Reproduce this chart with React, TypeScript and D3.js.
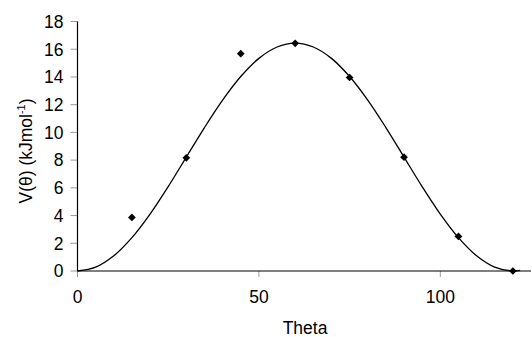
import React from "react";
import * as d3 from "d3";

const thetaPoints = [15, 30, 45, 60, 75, 90, 105, 120];
const energyPoints = [3.86, 8.17, 15.68, 16.43, 13.96, 8.21, 2.49, 0];

const curveTheta = [0, 5, 10, 15, 20, 25, 30, 35, 40, 45, 50, 55, 60, 65, 70, 75, 80, 85, 90, 95, 100, 105, 110, 115, 120, 122];
const curveEnergy = [0, 0.28, 1.1, 2.41, 4.11, 6.09, 8.22, 10.35, 12.33, 14.03, 15.34, 16.16, 16.44, 16.16, 15.34, 14.03, 12.33, 10.35, 8.22, 6.09, 4.11, 2.41, 1.1, 0.28, 0, 0.05];

const xTicks = [0, 50, 100];
const yTicks = [0, 2, 4, 6, 8, 10, 12, 14, 16, 18];

const W = 532;
const H = 337;
const left = 77.5;
const right = 531;
const top = 21.5;
const bottom = 271;
const FONT = "Arial, 'Liberation Sans', sans-serif";
const FS = 17.5;

export default function App() {
  const x = d3.scaleLinear().domain([0, 125]).range([left, right]);
  const y = d3.scaleLinear().domain([0, 18]).range([bottom, top]);
  const line = d3
    .line<number>()
    .x((_, i) => x(curveTheta[i]))
    .y((d) => y(d))
    .curve(d3.curveCatmullRom);
  const sym = d3.symbol().type(d3.symbolSquare).size(30)();

  return (
    <svg
      width={W}
      height={H}
      style={{ position: "absolute", left: 0, top: 0, background: "#fff" }}
      fontFamily={FONT}
    >
      <rect x={0} y={0} width={W} height={H} fill="#fff" />
      {yTicks.map((t) => (
        <g key={"y" + t}>
          <line x1={left - 7} x2={left} y1={y(t)} y2={y(t)} stroke="#999" />
          <text x={left - 14} y={y(t)} dy="0.36em" textAnchor="end" fontSize={FS} fill="#000">
            {t}
          </text>
        </g>
      ))}
      {xTicks.map((t) => (
        <g key={"x" + t}>
          <line x1={x(t)} x2={x(t)} y1={bottom} y2={bottom + 6} stroke="#999" />
          <text x={x(t)} y={303} textAnchor="middle" fontSize={FS} fill="#000">
            {t}
          </text>
        </g>
      ))}
      <line x1={left} x2={left} y1={top} y2={bottom} stroke="#000" strokeWidth={1.2} />
      <line x1={left} x2={right} y1={bottom} y2={bottom} stroke="#000" strokeWidth={1.2} />
      <path d={line(curveEnergy) || ""} fill="none" stroke="#000" strokeWidth={1.3} />
      {thetaPoints.map((t, i) => (
        <path
          key={"p" + t}
          d={sym || ""}
          transform={`translate(${x(t)},${y(energyPoints[i])}) rotate(45)`}
          fill="#000"
        />
      ))}
      <text x={305} y={334} textAnchor="middle" fontSize={FS} fill="#000">
        Theta
      </text>
      <text
        transform={`translate(32,151) rotate(-90)`}
        textAnchor="middle"
        fontSize={FS}
        fill="#000"
      >
        V(θ) (kJmol<tspan dy="-7" fontSize={11}>-1</tspan>
        <tspan dy="7">)</tspan>
      </text>
    </svg>
  );
}
